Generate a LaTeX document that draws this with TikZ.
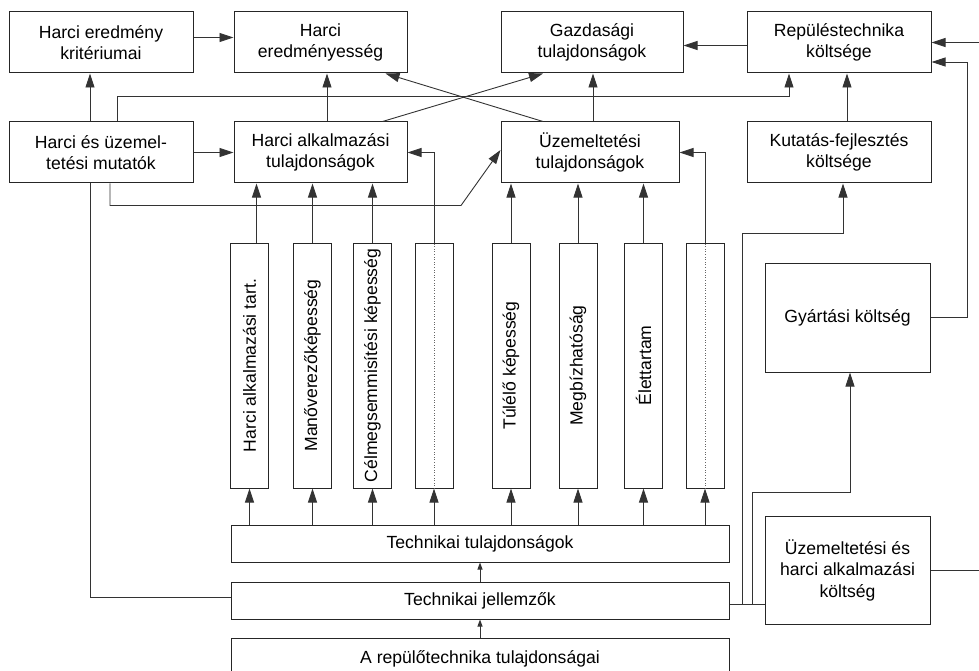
\documentclass[tikz,border=0pt]{standalone}
\usepackage{fontspec}
\setmainfont{Liberation Sans}
\usetikzlibrary{arrows.meta}

\tikzset{
	doboz/.style={draw=black!85, line width=1pt, align=center, inner sep=0pt, font=\fontsize{17.6}{21.5}\selectfont},
	oszlop/.style={doboz, minimum width=38pt, minimum height=245pt},
	nyil/.style={draw=black!80, line width=0.9pt, -{Triangle[length=14pt,width=9pt]}},
	kisnyil/.style={draw=black!80, line width=0.9pt, -{Triangle[length=7pt,width=5pt]}},
	vonal/.style={draw=black!80, line width=0.9pt},
}

\begin{document}
\begin{tikzpicture}[x=1pt, y=-1pt]
	\useasboundingbox (0,0) rectangle (979,671);

	% felso sor
	\node[doboz, minimum width=184pt, minimum height=61pt] (krit) at (101,42.5) {Harci eredmény\\kritériumai};
	\node[doboz, minimum width=173pt, minimum height=61pt] (ered) at (320.5,42.5) {Harci\\eredményesség};
	\node[doboz, minimum width=182pt, minimum height=61pt] (gazd) at (592,42.5) {Gazdasági\\tulajdonságok};
	\node[doboz, minimum width=184pt, minimum height=61pt] (koltseg) at (839,42.5) {Repüléstechnika\\költsége};

	% masodik sor
	\node[doboz, minimum width=184pt, minimum height=61pt] (mutat) at (101,152.5) {Harci és üzemel-\\tetési mutatók};
	\node[doboz, minimum width=173pt, minimum height=61pt] (harci) at (320.5,152.5) {Harci alkalmazási\\tulajdonságok};
	\node[doboz, minimum width=178pt, minimum height=61pt] (uzem) at (590,152.5) {Üzemeltetési\\tulajdonságok};
	\node[doboz, minimum width=184pt, minimum height=61pt] (kf) at (839,152.5) {Kutatás-fejlesztés\\költsége};

	% oszlopok
	\node[oszlop] (b1) at (249.5,365.5) {\rotatebox{90}{Harci alkalmazási tart.}};
	\node[oszlop] (b2) at (312.5,365.5) {\rotatebox{90}{Manőverezőképesség}};
	\node[oszlop] (b3) at (372.5,365.5) {\rotatebox{90}{Célmegsemmisítési képesség}};
	\node[oszlop] (b4) at (434,365.5) {};
	\node[oszlop] (b5) at (511,365.5) {\rotatebox{90}{Túlélő képesség}};
	\node[oszlop] (b6) at (578,365.5) {\rotatebox{90}{Megbízhatóság}};
	\node[oszlop] (b7) at (643.5,365.5) {\rotatebox{90}{Élettartam}};
	\node[oszlop] (b8) at (705,365.5) {};

	% also dobozok
	\node[doboz, minimum width=498pt, minimum height=37pt] (ttul) at (480,543.5) {Technikai tulajdonságok};
	\node[doboz, minimum width=498pt, minimum height=37pt] (tjell) at (480,600.5) {Technikai jellemzők};
	\node[doboz, minimum width=498pt, minimum height=42pt] (arep) at (480,659) {A repülőtechnika tulajdonságai};

	% jobb oldal
	\node[doboz, minimum width=165pt, minimum height=109pt] (gyart) at (847.5,317.5) {Gyártási költség};
	\node[doboz, minimum width=165pt, minimum height=108pt] (uhk) at (847.5,570) {Üzemeltetési és\\harci alkalmazási\\költség};

	% felso kapcsolatok
	\draw[nyil] ([yshift=5pt]krit.east) -- ([yshift=5pt]ered.west);
	\draw[nyil] ([yshift=-3pt]koltseg.west) -- ([yshift=-3pt]gazd.east);
	\draw[nyil] ([xshift=-11pt]mutat.north) -- ([xshift=-11pt]krit.south);
	\draw[nyil] (mutat) -- (harci);
	\draw[nyil] ([xshift=6.5pt]harci.north) -- ([xshift=6.5pt]ered.south);
	\draw[nyil] ([xshift=62pt]harci.north) -- ([xshift=-49pt]gazd.south);
	\draw[nyil] ([xshift=-47pt]uzem.north) -- ([xshift=65pt]ered.south);
	\draw[nyil] ([xshift=3pt]uzem.north) -- ([xshift=1pt]gazd.south);
	\draw[nyil] ([xshift=8pt]kf.north) -- ([xshift=8pt]koltseg.south);
	\draw[nyil] ([xshift=16pt]mutat.north) -- ++(0,-25) -| ([xshift=-50pt]koltseg.south);
	\draw[nyil] ([xshift=9pt]mutat.south) -- ++(0,22) -- ++(351,0) -- ([yshift=2.5pt]uzem.west);
	\draw[vonal] ([xshift=-11pt]mutat.south) |- ([yshift=3pt]tjell.west);

	% oszlopok kapcsolatai
	\draw[nyil] ([xshift=7pt]b1.north) -- ([xshift=7pt]b1.north |- harci.south);
	\draw[nyil] (b2.north) -- (b2.north |- harci.south);
	\draw[nyil] (b3.north) -- (b3.north |- harci.south);
	\draw[nyil] (b4.north) |- (harci.east);
	\draw[nyil] (b5.north) -- (b5.north |- uzem.south);
	\draw[nyil] (b6.north) -- (b6.north |- uzem.south);
	\draw[nyil] (b7.north) -- (b7.north |- uzem.south);
	\draw[nyil] (b8.north) |- (uzem.east);
	\draw[black!60, dotted, line width=0.6pt] (b4.south) -- (b4.north);
	\draw[black!60, dotted, line width=0.6pt] (b8.south) -- (b8.north);

	\draw[nyil] (ttul.north -| b1) -- (b1.south);
	\draw[nyil] (ttul.north -| b2) -- (b2.south);
	\draw[nyil] (ttul.north -| b3) -- (b3.south);
	\draw[nyil] (ttul.north -| b4) -- (b4.south);
	\draw[nyil] (ttul.north -| b5) -- (b5.south);
	\draw[nyil] (ttul.north -| b6) -- (b6.south);
	\draw[nyil] (ttul.north -| b7) -- (b7.south);
	\draw[nyil] (ttul.north -| b8) -- (b8.south);

	\draw[kisnyil] (tjell) -- (ttul);
	\draw[kisnyil] (arep) -- (tjell);

	% koltsegek
	\coordinate (ag1) at (742,604);
	\coordinate (ag2) at (752,604);
	\draw[vonal] ([yshift=-3.5pt]tjell.east) -- ([yshift=-3.5pt]tjell.east -| uhk.west);
	\draw[nyil] (ag1) -- ++(0,-371) -| ([xshift=4pt]kf.south);
	\draw[nyil] (ag2) -- ++(0,-112) -| ([xshift=2.5pt]gyart.south);
	\draw[nyil] (gyart.east) -- ++(37,0) |- ([yshift=-19.5pt]koltseg.east);
	\draw[nyil] (uhk.east) -- ++(60,0) |- (koltseg.east);
\end{tikzpicture}
\end{document}
